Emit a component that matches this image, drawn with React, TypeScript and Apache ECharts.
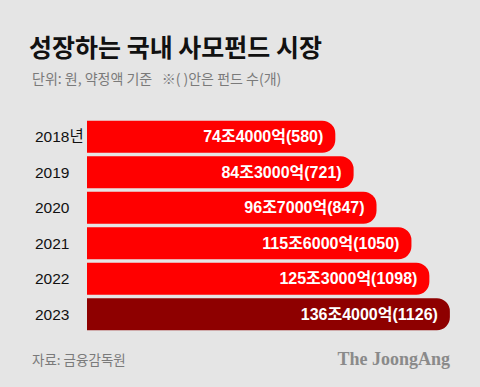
import React, { useEffect, useRef } from "react";
import * as echarts from "echarts";

const years = ["2018년", "2019", "2020", "2021", "2022", "2023"];
const amounts = [74.4, 84.3, 96.7, 115.6, 125.3, 136.4]; // 조원
const fundCounts = [580, 721, 847, 1050, 1098, 1126];
const barColors = ["#FF0000", "#FF0000", "#FF0000", "#FF0000", "#FF0000", "#8E0000"];

const TITLE = "성장하는 국내 사모펀드 시장";
const SUBTITLE = "단위: 원, 약정액 기준   ※( )안은 펀드 수(개)";
const SOURCE = "자료: 금융감독원";
const BRAND = "The JoongAng";

const FONT = "'Liberation Sans', 'Noto Sans CJK KR', sans-serif";
const KFONT = "'Noto Sans CJK KR', sans-serif";

function fmt(v: number, count: number): string {
  const jo = Math.floor(v);
  const eok = Math.round((v - jo) * 10000);
  return `${jo}조${eok}억(${count})`;
}

export default function App() {
  const ref = useRef<HTMLDivElement>(null);
  useEffect(() => {
    if (!ref.current) return;
    const chart = echarts.init(ref.current, null, { renderer: "svg" });
    chart.setOption({
      animation: false,
      backgroundColor: "#E5E5E5",
      grid: { left: 87, right: 5, top: 119, bottom: 55 },
      xAxis: {
        type: "value",
        min: -60,
        max: 150,
        startValue: -60,
        show: false,
      },
      yAxis: {
        type: "category",
        data: years,
        inverse: true,
        axisLine: { show: false },
        axisTick: { show: false },
        axisLabel: {
          align: "left",
          margin: 52,
          color: "#111",
          fontSize: 15.5,
          fontFamily: FONT,
        },
      },
      series: [
        {
          type: "bar",
          barWidth: 32,
          data: amounts.map((v, i) => ({
            value: v,
            itemStyle: { color: barColors[i] },
          })),
          itemStyle: { borderRadius: [0, 13, 13, 0] },
          label: {
            show: true,
            position: "insideRight",
            distance: 12,
            color: "#fff",
            fontWeight: "bold",
            fontSize: 16,
            fontFamily: FONT,
            formatter: (p: any) => fmt(amounts[p.dataIndex], fundCounts[p.dataIndex]),
          },
        },
      ],
      graphic: [
        {
          type: "text",
          left: 29,
          top: 33,
          style: {
            text: TITLE,
            fontSize: 25,
            fontWeight: "bold",
            fontFamily: KFONT,
            fill: "#111",
          },
        },
        {
          type: "text",
          left: 32,
          top: 71,
          style: {
            text: SUBTITLE,
            fontSize: 14,
            fontFamily: KFONT,
            fill: "#7a7a7a",
          },
        },
        {
          type: "text",
          left: 32,
          top: 352,
          style: {
            text: SOURCE,
            fontSize: 13.5,
            fontFamily: KFONT,
            fill: "#7a7a7a",
          },
        },
        {
          type: "text",
          right: 30,
          top: 350,
          style: {
            text: BRAND,
            fontSize: 18,
            fontWeight: "bold",
            fontFamily: "'Liberation Serif', serif",
            fill: "#8a8a8a",
          },
        },
      ],
    });
    return () => chart.dispose();
  }, []);
  return (
    <div
      ref={ref}
      style={{ position: "fixed", left: 0, top: 0, width: 480, height: 387 }}
    />
  );
}
